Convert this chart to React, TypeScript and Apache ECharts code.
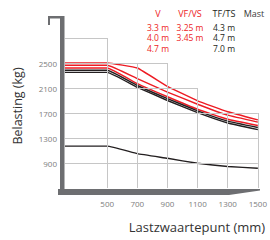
import React, { useEffect, useRef } from "react";
import * as echarts from "echarts";

// Load centre positions (mm)
const xPositions = [220, 500, 700, 900, 1100, 1300, 1500];
const xTickLabels = [500, 700, 900, 1100, 1300, 1500];
const yTickLabels = [900, 1300, 1700, 2100, 2500];

// Capacity curves (kg)
const redA = [2500, 2500, 2420, 2125, 1895, 1720, 1590];
const redB = [2465, 2465, 2250, 2035, 1840, 1665, 1555];
const redC = [2420, 2420, 2170, 1960, 1760, 1600, 1500];
const blackA = [2385, 2385, 2140, 1930, 1735, 1570, 1468];
const blackB = [2350, 2350, 2110, 1900, 1705, 1540, 1435];
const blackC = [1170, 1170, 1050, 975, 895, 845, 815];

// Legend table
const legendHeaders = ["V", "VF/VS", "TF/TS", "Mast"];
const legendV = ["3.3 m", "4.0 m", "4.7 m"];
const legendVF = ["3.25 m", "3.45 m"];
const legendTF = ["4.3 m", "4.7 m", "7.0 m"];

// Stepped grid: [value, extent]
const gridRows = [
  [2900, 500],
  [2500, 900],
  [2100, 1100],
  [1700, 1500],
  [1300, 1500],
  [900, 1500],
];
const gridCols = [
  [500, 2900],
  [700, 2500],
  [900, 2500],
  [1100, 2100],
  [1300, 1700],
  [1500, 1700],
];

const RED = "#ed1c24";
const BLACK = "#231f20";
const FRAME = "#6d6e71";
const FONT = "Open Sans";

export default function App() {
  const ref = useRef<HTMLDivElement>(null);

  useEffect(() => {
    if (!ref.current) return;
    const chart = echarts.init(ref.current, undefined, { renderer: "svg" });
    const zip = (vals: number[]) => xPositions.map((x, i) => [x, vals[i]]);
    const mkLine = (name: string, vals: number[], color: string) => ({
      name,
      type: "line",
      data: zip(vals),
      smooth: 0.1,
      symbol: "none",
      lineStyle: { color, width: 1.4, join: "round" },
      z: 3,
    });

    const gridLines = [
      ...gridRows.map(([y, xEnd]) => [{ coord: [xPositions[0], y] }, { coord: [xEnd, y] }]),
      ...gridCols.map(([x, yTop]) => [{ coord: [x, yTop] }, { coord: [x, 500] }]),
    ];

    const legendCols = [158, 190, 224, 254];
    const rowY = [27, 37.5, 48.3];
    const legendTexts: any[] = [];
    legendHeaders.forEach((h, i) => {
      legendTexts.push({
        type: "text",
        x: legendCols[i],
        y: 13.5,
        style: {
          text: h,
          fill: i < 2 ? RED : i === 2 ? BLACK : "#3a3a3a",
          font: `9px "${FONT}"`,
          textAlign: "center",
          textVerticalAlign: "middle",
        },
      });
    });
    const addCol = (arr: string[], colX: number, color: string) =>
      arr.forEach((t, r) =>
        legendTexts.push({
          type: "text",
          x: colX,
          y: rowY[r],
          style: {
            text: t,
            fill: color,
            font: `8.5px "${FONT}"`,
            textAlign: "center",
            textVerticalAlign: "middle",
          },
        })
      );
    addCol(legendV, legendCols[0], RED);
    addCol(legendVF, legendCols[1], RED);
    addCol(legendTF, legendCols[2], BLACK);

    chart.setOption({
      animation: false,
      grid: { left: 65, right: 10, top: 38, bottom: 52, containLabel: false },
      xAxis: {
        type: "value",
        min: xPositions[0],
        max: 1500,
        axisLine: { show: false },
        axisTick: { show: false },
        splitLine: { show: false },
        axisLabel: {
          customValues: xTickLabels,
          formatter: (v: number) => String(v),
          color: "#7d7d7d",
          fontFamily: FONT,
          fontSize: 8,
          margin: 11,
        },
      },
      yAxis: {
        type: "value",
        min: 500,
        max: 2900,
        axisLine: { show: false },
        axisTick: { show: false },
        splitLine: { show: false },
        axisLabel: {
          customValues: yTickLabels,
          formatter: (v: number) => String(v),
          color: "#7d7d7d",
          fontFamily: FONT,
          fontSize: 8,
          margin: 8,
        },
      },
      series: [
        {
          name: "grid",
          type: "line",
          data: [],
          silent: true,
          z: 1,
          markLine: {
            silent: true,
            symbol: "none",
            label: { show: false },
            lineStyle: { color: "#c6c6c6", width: 1, type: "solid" },
            emphasis: { disabled: true },
            data: gridLines,
          },
        },
        mkLine("V 4.7 m", redA, RED),
        mkLine("VF/VS", redB, RED),
        mkLine("V 3.3 m", redC, RED),
        mkLine("TF/TS 4.3 m", blackA, BLACK),
        mkLine("TF/TS 4.7 m", blackB, BLACK),
        mkLine("TF/TS 7.0 m", blackC, BLACK),
      ],
      graphic: [
        { type: "rect", shape: { x: 60, y: 16, width: 4.5, height: 179 }, style: { fill: FRAME }, z: 10 },
        { type: "rect", shape: { x: 48, y: 16, width: 16, height: 2.5 }, style: { fill: FRAME }, z: 10 },
        { type: "rect", shape: { x: 48, y: 16, width: 2, height: 9 }, style: { fill: FRAME }, z: 10 },
        {
          type: "polygon",
          shape: { points: [[58, 189], [260, 189], [260, 190.5], [229, 195], [58, 195]] },
          style: { fill: FRAME },
          z: 10,
        },
        {
          type: "text",
          x: 17,
          y: 106,
          rotation: Math.PI / 2,
          style: {
            text: "Belasting (kg)",
            fill: "#333333",
            font: `12.5px "${FONT}"`,
            textAlign: "center",
            textVerticalAlign: "middle",
          },
        },
        {
          type: "text",
          x: 197,
          y: 227,
          style: {
            text: "Lastzwaartepunt (mm)",
            fill: "#333333",
            font: `13px "${FONT}"`,
            textAlign: "center",
            textVerticalAlign: "middle",
          },
        },
        ...legendTexts,
      ],
    });
    return () => chart.dispose();
  }, []);

  return (
    <div
      ref={ref}
      style={{ position: "fixed", left: 0, top: 0, width: 270, height: 240, background: "#fff" }}
    />
  );
}
